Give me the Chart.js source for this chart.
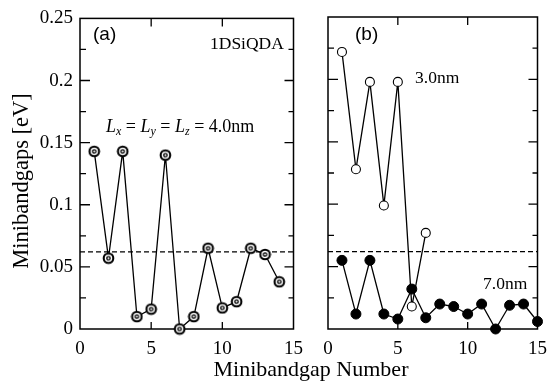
<!DOCTYPE html>
<html>
<head>
<meta charset="utf-8">
<script src="https://cdn.jsdelivr.net/npm/chart.js@4.4.0/dist/chart.umd.min.js"></script>
<style>
    body { margin: 0; background: #fff; }
    #wrap { position: relative; width: 556px; height: 381px; overflow: hidden; }
    #chartA { position: absolute; left: 0; top: 0; }
    #chartB { position: absolute; left: 312px; top: 0; }
    #xTitle {
        position: absolute; left: 150px; width: 322px; top: 358px;
        text-align: center; font: 22px "Liberation Serif", serif; line-height: 22px; color: #000;
    }
</style>
</head>
<body>
<div id="wrap">
    <canvas id="chartA" width="312" height="381"></canvas>
    <canvas id="chartB" width="244" height="381"></canvas>
    <div id="xTitle">Minibandgap Number</div>
</div>
<script>
// panel (a): Lx = Ly = Lz = 4.0nm
const gapNumA = [1, 2, 3, 4, 5, 6, 7, 8, 9, 10, 11, 12, 13, 14];
const gapsA = [0.143, 0.057, 0.143, 0.010, 0.016, 0.140, 0.000, 0.010, 0.065, 0.017, 0.022, 0.065, 0.060, 0.038];

// panel (b): 3.0nm and 7.0nm
const gapNum30 = [1, 2, 3, 4, 5, 6, 7];
const gaps30 = [0.222, 0.128, 0.198, 0.099, 0.198, 0.018, 0.077];
const gapNum70 = [1, 2, 3, 4, 5, 6, 7, 8, 9, 10, 11, 12, 13, 14, 15];
const gaps70 = [0.055, 0.012, 0.055, 0.012, 0.008, 0.032, 0.009, 0.020, 0.018, 0.012, 0.020, 0.000, 0.019, 0.020, 0.006];

const xMajor = [0, 5, 10, 15];
const yMajor = [0, 0.05, 0.1, 0.15, 0.2, 0.25];
const yMinor = [0.025, 0.075, 0.125, 0.175, 0.225];
const threshold = 0.062;

const SERIF = '"Liberation Serif", "Times New Roman", serif';
const SANS = '"Liberation Sans", Arial, sans-serif';

function points(xs, ys) {
    return xs.map((x, i) => ({ x: x, y: ys[i] }));
}

// double ring marker used in panel (a)
function ringMark() {
    const c = document.createElement('canvas');
    c.width = 13;
    c.height = 13;
    const g = c.getContext('2d');
    g.fillStyle = '#fff';
    g.beginPath(); g.arc(6.5, 6.5, 5.5, 0, 2 * Math.PI); g.fill();
    g.strokeStyle = '#000';
    g.lineWidth = 2.1;
    g.beginPath(); g.arc(6.5, 6.5, 4.8, 0, 2 * Math.PI); g.stroke();
    g.lineWidth = 1.3;
    g.beginPath(); g.arc(6.5, 6.5, 1.7, 0, 2 * Math.PI); g.stroke();
    return c;
}

// box, inward ticks and dashed reference line
const framePlugin = {
    id: 'frame',
    beforeDatasetsDraw(chart) {
        const ctx = chart.ctx;
        const a = chart.chartArea;
        const xs = chart.scales.x, ys = chart.scales.y;
        ctx.save();
        ctx.strokeStyle = '#000';
        ctx.lineWidth = 1.5;
        ctx.strokeRect(a.left, a.top, a.right - a.left, a.bottom - a.top);
        ctx.lineWidth = 1.3;
        ctx.beginPath();
        xMajor.forEach(v => {
            const px = xs.getPixelForValue(v);
            if (px <= a.left + 1 || px >= a.right - 1) return;
            ctx.moveTo(px, a.bottom); ctx.lineTo(px, a.bottom - 7);
            ctx.moveTo(px, a.top); ctx.lineTo(px, a.top + 8);
        });
        yMajor.forEach(v => {
            const py = ys.getPixelForValue(v);
            if (py <= a.top + 1 || py >= a.bottom - 1) return;
            ctx.moveTo(a.left, py); ctx.lineTo(a.left + 10, py);
            ctx.moveTo(a.right, py); ctx.lineTo(a.right - 9, py);
        });
        yMinor.forEach(v => {
            const py = ys.getPixelForValue(v);
            ctx.moveTo(a.left, py); ctx.lineTo(a.left + 6, py);
            ctx.moveTo(a.right, py); ctx.lineTo(a.right - 5, py);
        });
        ctx.stroke();
        const ty = ys.getPixelForValue(threshold);
        ctx.lineWidth = 1.2;
        ctx.setLineDash([5, 3]);
        ctx.beginPath();
        ctx.moveTo(a.left, ty);
        ctx.lineTo(a.right, ty);
        ctx.stroke();
        ctx.restore();
    }
};

const labelsA = {
    id: 'labelsA',
    afterDraw(chart) {
        const ctx = chart.ctx;
        const a = chart.chartArea;
        ctx.save();
        ctx.fillStyle = '#000';
        ctx.textBaseline = 'alphabetic';
        ctx.font = '19px ' + SANS;
        ctx.fillText('(a)', a.left + 13, 40);
        ctx.font = '17.5px ' + SERIF;
        ctx.fillText('1DSiQDA', 210, 49);
        // L_x = L_y = L_z = 4.0nm
        let x = 106;
        const base = 132;
        const part = (t, font, dy) => {
            ctx.font = font;
            ctx.fillText(t, x, base + (dy || 0));
            x += ctx.measureText(t).width;
        };
        const it = 'italic 18px ' + SERIF, sub = 'italic 12px ' + SERIF, rm = '18px ' + SERIF;
        part('L', it); part('x', sub, 3); part(' = ', rm);
        part('L', it); part('y', sub, 3); part(' = ', rm);
        part('L', it); part('z', sub, 3); part(' = 4.0nm', rm);
        // y axis title
        ctx.translate(28, 181);
        ctx.rotate(-Math.PI / 2);
        ctx.textAlign = 'center';
        ctx.font = '22.5px ' + SERIF;
        ctx.fillText('Minibandgaps [eV]', 0, 0);
        ctx.restore();
    }
};

const labelsB = {
    id: 'labelsB',
    afterDraw(chart) {
        const ctx = chart.ctx;
        const a = chart.chartArea;
        ctx.save();
        ctx.fillStyle = '#000';
        ctx.font = '19px ' + SANS;
        ctx.fillText('(b)', a.left + 27, 40);
        ctx.font = '17.5px ' + SERIF;
        ctx.fillText('3.0nm', a.left + 87, 83);
        ctx.fillText('7.0nm', a.left + 155, 289);
        ctx.restore();
    }
};

function baseOptions(showY, padLeft, padRight) {
    return {
        responsive: false,
        animation: false,
        layout: { padding: { top: 17, left: padLeft, right: padRight, bottom: 0 } },
        plugins: { legend: { display: false }, tooltip: { enabled: false } },
        elements: { line: { tension: 0 } },
        scales: {
            x: {
                type: 'linear',
                min: 0, max: 15,
                grid: { display: false, drawTicks: false },
                border: { display: false },
                ticks: {
                    stepSize: 5,
                    color: '#000',
                    padding: 9,
                    maxRotation: 0,
                    font: { family: SERIF, size: 19 }
                },
                afterFit: s => { s.height = 52; }
            },
            y: {
                min: 0, max: 0.25,
                grid: { display: false, drawTicks: false },
                border: { display: false },
                ticks: {
                    display: showY,
                    stepSize: 0.05,
                    color: '#000',
                    padding: 7,
                    font: { family: SERIF, size: 19 },
                    callback: v => String(+v.toFixed(2))
                },
                afterFit: s => { s.width = showY ? 80 : 0; }
            }
        }
    };
}

const chartA = new Chart(document.getElementById('chartA'), {
    type: 'line',
    data: {
        datasets: [{
            data: points(gapNumA, gapsA),
            borderColor: '#000',
            borderWidth: 1.3,
            pointStyle: ringMark(),
            clip: false
        }]
    },
    options: baseOptions(true, 0, 14),
    plugins: [framePlugin, labelsA]
});

const chartB = new Chart(document.getElementById('chartB'), {
    type: 'line',
    data: {
        datasets: [{
            data: points(gapNum70, gaps70),
            borderColor: '#000',
            borderWidth: 1.3,
            pointRadius: 5,
            pointBackgroundColor: '#000',
            pointBorderColor: '#000',
            pointBorderWidth: 1,
            clip: false
        }, {
            data: points(gapNum30, gaps30),
            borderColor: '#000',
            borderWidth: 1.3,
            pointRadius: 4.5,
            pointBackgroundColor: '#fff',
            pointBorderColor: '#000',
            pointBorderWidth: 1.1,
            clip: false
        }]
    },
    options: baseOptions(false, 16, 10),
    plugins: [framePlugin, labelsB]
});
</script>
</body>
</html>
